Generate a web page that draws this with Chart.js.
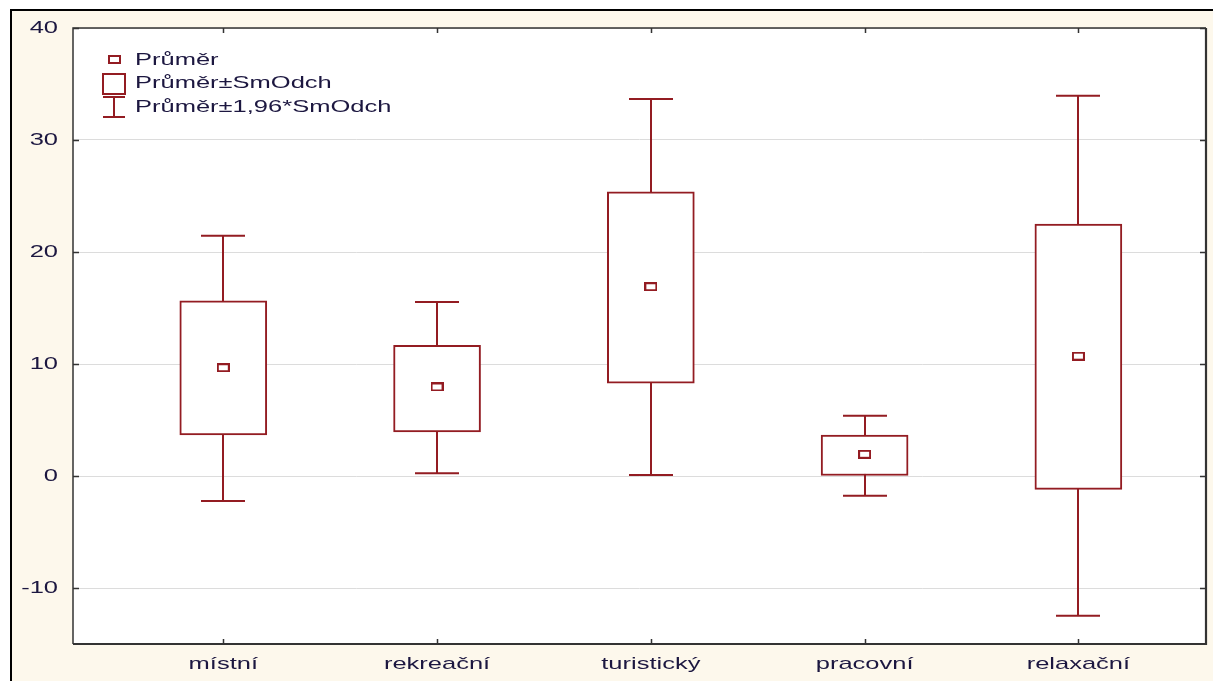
<!DOCTYPE html>
<html lang="cs">
<head>
<meta charset="utf-8">
<title>Průměr a SmOdch podle typu</title>
<script src="https://cdn.jsdelivr.net/npm/chart.js@4/dist/chart.umd.min.js"></script>
<style>
  html, body { margin: 0; padding: 0; background: #ffffff; }
  #wrap { width: 1213px; height: 681px; }
</style>
</head>
<body>
<div id="wrap"><canvas id="c" width="1213" height="681"></canvas></div>
<script>
// Categories and statistics per category
const categories = ['místní', 'rekreační', 'turistický', 'pracovní', 'relaxační'];
const means   = [9.67, 7.95, 16.9, 1.94, 10.7];
const sdLow   = [3.66, 3.93, 8.28, 0.0, -1.19];
const sdHigh  = [15.65, 11.67, 25.38, 3.66, 22.5];
const ciLow   = [-2.23, 0.24, 0.09, -1.76, -12.47];
const ciHigh  = [21.45, 15.54, 33.66, 5.38, 33.96];
const yTicks  = [-10, 0, 10, 20, 30, 40];
const legendLabels = ['Průměr', 'Průměr±SmOdch', 'Průměr±1,96*SmOdch'];

const RED = '#931c22';
const TEXT = '#1c1740';
const FONT = "'Liberation Sans', Arial, sans-serif";
const TEXT_SIZE = 17;
const TEXT_WIDEN = 1.5;   // labels are set in a horizontally widened face

// small rectangular marker used for the mean
function makeMeanIcon() {
  const cv = document.createElement('canvas');
  cv.width = 13; cv.height = 9;
  const g = cv.getContext('2d');
  g.fillStyle = '#ffffff';
  g.fillRect(0, 0, 13, 9);
  g.strokeStyle = RED;
  g.lineWidth = 2;
  g.strokeRect(1, 1, 11, 7);
  return cv;
}
const meanIcon = makeMeanIcon();

// widened text helper
function wideText(ctx, text, x, y, align) {
  ctx.save();
  ctx.translate(x, y);
  ctx.scale(TEXT_WIDEN, 1);
  ctx.textAlign = align;
  ctx.textBaseline = 'middle';
  ctx.fillText(text, 0, 0);
  ctx.restore();
}

// page background with the dark frame on top and left
const backdrop = {
  id: 'backdrop',
  beforeDraw(chart) {
    const { ctx, width, height } = chart;
    ctx.save();
    ctx.fillStyle = '#ffffff';
    ctx.fillRect(0, 0, width, height);
    ctx.fillStyle = '#fdf8ec';
    ctx.fillRect(12, 11, width - 12, height - 11);
    ctx.fillStyle = '#000000';
    ctx.fillRect(10, 9, width - 10, 2);
    ctx.fillRect(10, 9, 2, height - 9);
    const a = chart.chartArea;
    ctx.fillStyle = '#ffffff';
    ctx.fillRect(a.left, a.top, a.right - a.left, a.bottom - a.top);
    ctx.restore();
  }
};

// ±1.96*SD whiskers with caps, drawn under the boxes
const whiskers = {
  id: 'whiskers',
  beforeDatasetsDraw(chart) {
    const { ctx, scales: { x, y } } = chart;
    const capHalf = 22;
    ctx.save();
    ctx.strokeStyle = RED;
    ctx.lineWidth = 2;
    categories.forEach((c, i) => {
      const px = Math.round(x.getPixelForValue(i + 1));
      const top = y.getPixelForValue(ciHigh[i]);
      const bot = y.getPixelForValue(ciLow[i]);
      ctx.beginPath();
      ctx.moveTo(px, top); ctx.lineTo(px, bot);
      ctx.moveTo(px - capHalf, top); ctx.lineTo(px + capHalf, top);
      ctx.moveTo(px - capHalf, bot); ctx.lineTo(px + capHalf, bot);
      ctx.stroke();
    });
    ctx.restore();
  }
};

// plot frame with inward tick marks, axis labels and the legend inside the plot
const frame = {
  id: 'frame',
  afterDraw(chart) {
    const { ctx, chartArea: a, scales: { x, y } } = chart;
    ctx.save();
    ctx.strokeStyle = '#333333';
    ctx.lineWidth = 1.5;
    ctx.beginPath();
    ctx.moveTo(a.left, a.bottom); ctx.lineTo(a.left, a.top); ctx.lineTo(a.right, a.top);
    ctx.stroke();
    ctx.lineWidth = 2.2;
    ctx.beginPath();
    ctx.moveTo(a.right, a.top); ctx.lineTo(a.right, a.bottom); ctx.lineTo(a.left, a.bottom);
    ctx.stroke();
    ctx.lineWidth = 1.5;
    ctx.beginPath();
    y.ticks.forEach(t => {
      const py = Math.round(y.getPixelForValue(t.value)) + 0.5;
      ctx.moveTo(a.left, py); ctx.lineTo(a.left + 6, py);
      ctx.moveTo(a.right, py); ctx.lineTo(a.right - 6, py);
    });
    x.ticks.forEach(t => {
      const px = Math.round(x.getPixelForValue(t.value)) + 0.5;
      ctx.moveTo(px, a.top); ctx.lineTo(px, a.top + 5);
      ctx.moveTo(px, a.bottom); ctx.lineTo(px, a.bottom - 5);
    });
    ctx.stroke();

    // axis labels from the scales' own ticks
    ctx.fillStyle = TEXT;
    ctx.font = TEXT_SIZE + 'px ' + FONT;
    y.ticks.forEach(t => {
      wideText(ctx, String(t.value), a.left - 15, y.getPixelForValue(t.value), 'right');
    });
    x.ticks.forEach((t, i) => {
      wideText(ctx, categories[i], x.getPixelForValue(t.value), a.bottom + 20, 'center');
    });

    // legend
    const lx = a.left + 41;
    ctx.strokeStyle = RED;
    ctx.lineWidth = 2;
    ctx.drawImage(meanIcon, lx - 6, 55);
    ctx.strokeRect(lx - 11, 74, 22, 20);
    ctx.beginPath();
    ctx.moveTo(lx - 11, 97); ctx.lineTo(lx + 11, 97);
    ctx.moveTo(lx, 97); ctx.lineTo(lx, 117);
    ctx.moveTo(lx - 11, 117); ctx.lineTo(lx + 11, 117);
    ctx.stroke();
    const ys = [60, 83, 107];
    legendLabels.forEach((t, i) => wideText(ctx, t, lx + 21, ys[i], 'left'));
    ctx.restore();
  }
};

new Chart(document.getElementById('c'), {
  type: 'bar',
  data: {
    datasets: [
      {
        type: 'bar',
        label: legendLabels[1],
        data: categories.map((c, i) => ({ x: i + 1, y: [sdLow[i], sdHigh[i]] })),
        backgroundColor: '#ffffff',
        borderColor: RED,
        borderWidth: 2,
        borderSkipped: false,
        barThickness: 87,
        grouped: false,
        order: 2
      },
      {
        type: 'scatter',
        label: legendLabels[0],
        data: categories.map((c, i) => ({ x: i + 1, y: means[i] })),
        pointStyle: meanIcon,
        order: 1
      }
    ]
  },
  options: {
    responsive: false,
    animation: false,
    layout: { padding: { top: 28, right: 7, left: 0, bottom: 0 } },
    plugins: { legend: { display: false }, tooltip: { enabled: false } },
    scales: {
      x: {
        type: 'linear',
        offset: false,
        min: 0.297,
        max: 5.597,
        grid: { display: false, drawTicks: false },
        border: { display: false },
        afterBuildTicks(scale) { scale.ticks = categories.map((c, i) => ({ value: i + 1 })); },
        afterFit(scale) { scale.height = 37; },
        ticks: { display: false, autoSkip: false }
      },
      y: {
        type: 'linear',
        min: -15,
        max: 40,
        grid: { color: '#dcdcdc', lineWidth: 1, drawTicks: false },
        border: { display: false },
        afterBuildTicks(scale) { scale.ticks = yTicks.map(v => ({ value: v })); },
        afterFit(scale) { scale.width = 73; },
        ticks: { display: false }
      }
    }
  },
  plugins: [backdrop, whiskers, frame]
});
</script>
</body>
</html>
